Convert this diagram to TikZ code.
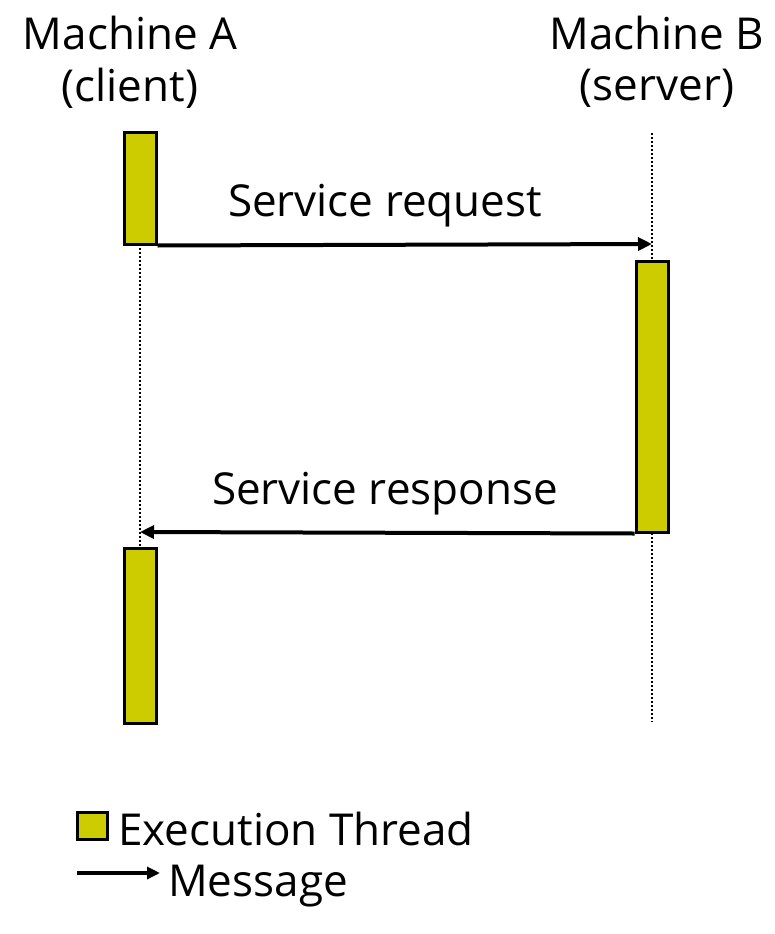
\documentclass[tikz,border=0pt]{standalone}
\usepackage{fontspec}
\setmainfont{Open Sans}
\usetikzlibrary{arrows.meta}
\definecolor{thread}{HTML}{CCCC00}
\begin{document}
\begin{tikzpicture}[x=1pt,y=-1pt,
  thr/.style={draw=black,line width=3pt,fill=thread},
  life/.style={line width=2pt,dash pattern=on 2pt off 2pt},
  msg/.style={line width=4pt,-{Triangle[length=14pt,width=13pt]}},
  lbl/.style={font=\fontsize{44}{50}\selectfont,inner sep=0pt}]
\useasboundingbox (0,0) rectangle (775,934);
% titles
\node[lbl] (ta) at (130,33) {Machine A};
\node[lbl] (tac) at (130,88) {(client)};
\node[lbl] (tb) at (657,33) {Machine B};
\node[lbl] (tbc) at (657,88) {(server)};
% lifelines
\coordinate (ltopA) at (140,244);
\coordinate (lbotA) at (140,548);
\coordinate (ltopB) at (652,133);
\coordinate (lbotB) at (652,722);
\draw[life] (ltopA) -- (lbotA);
\draw[life] (ltopB) -- (lbotB);
% threads
\node[thr,minimum width=32pt,minimum height=112pt,inner sep=0pt] (a1) at (140,188) {};
\node[thr,minimum width=32pt,minimum height=175pt,inner sep=0pt] (a2) at (140,635.5) {};
\node[thr,minimum width=32pt,minimum height=271pt,inner sep=0pt] (b1) at (652,396.5) {};
% messages
\coordinate (reqEnd) at (652,244);
\coordinate (resEnd) at (140,532);
\draw[msg] (a1.south east) -- (reqEnd);
\draw[msg] (b1.south west) -- (resEnd);
\node[lbl] (lreq) at (385,206) {Service request};
\node[lbl] (lres) at (385,494) {Service response};
% legend
\node[thr,minimum width=30pt,minimum height=27pt,inner sep=0pt] (legbox) at (92.5,826) {};
\node[lbl,anchor=west] (legthr) at (118,829) {Execution Thread};
\coordinate (legA) at (77,873);
\coordinate (legB) at (160,873);
\draw[msg,line width=3.4pt,-{Triangle[length=13pt,width=12pt]}] (legA) -- (legB);
\node[lbl,anchor=west] (legmsg) at (168,886) {Message};
\end{tikzpicture}
\end{document}
